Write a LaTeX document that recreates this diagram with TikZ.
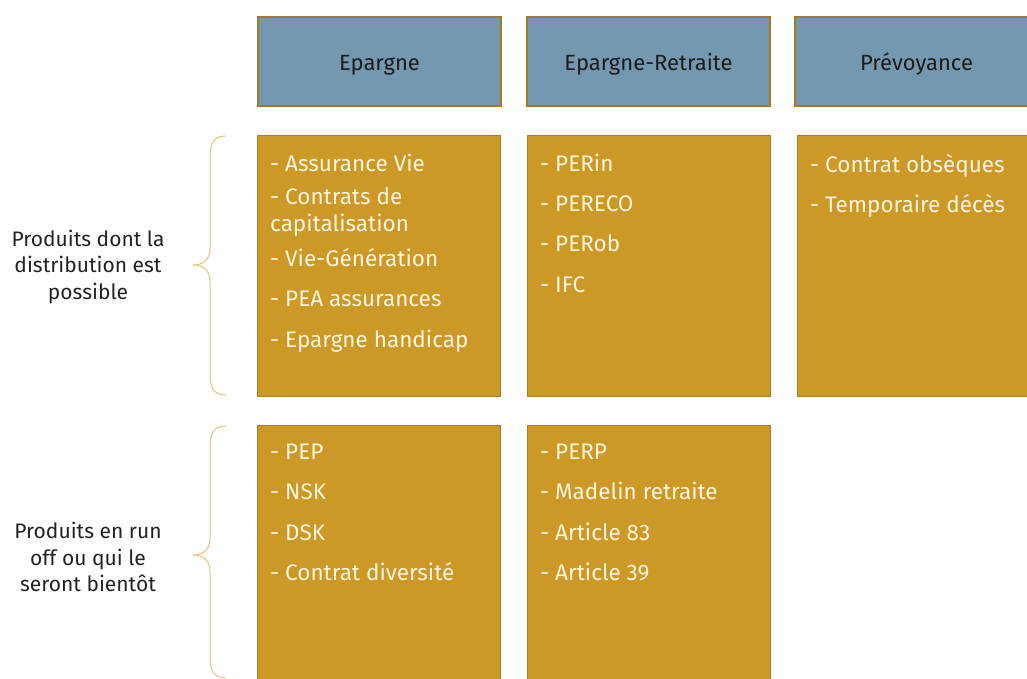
\documentclass[tikz,border=0pt]{standalone}
\usepackage{fontspec}
\setmainfont{Fira Sans}
\begin{document}
\begin{tikzpicture}[x=1pt,y=-1pt,
  header/.style={draw=hdrline, line width=2pt, fill=hdrfill, minimum width=243pt,
    minimum height=89pt, inner sep=0pt, anchor=north west, text depth=0pt,
    text height=19pt, font=\fontsize{22}{26}\selectfont, text=hdrtext},
  prodbox/.style={draw=boxline, line width=1pt, fill=boxfill, minimum width=243pt,
    inner sep=0pt, anchor=north west},
  items/.style={anchor=north west, align=left, inner sep=0pt, text=itemtext,
    font=\fontsize{22.5}{27}\selectfont},
  rowlabel/.style={align=center, inner sep=0pt, text=lbltext,
    font=\fontsize{21}{26.5}\selectfont},
  bracket/.style={draw=bracecol, line width=1pt}]
\definecolor{hdrfill}{HTML}{7398B0}
\definecolor{hdrline}{HTML}{A57A1E}
\definecolor{hdrtext}{HTML}{1C1C1C}
\definecolor{boxfill}{HTML}{CC9826}
\definecolor{boxline}{HTML}{A88020}
\definecolor{itemtext}{HTML}{FFF5E1}
\definecolor{lbltext}{HTML}{222222}
\definecolor{bracecol}{HTML}{E6C175}
\useasboundingbox (0,0) rectangle (1027,679);
\clip (0,0) rectangle (1027,679);

% column headers
\node[header] (hEp) at (257,16) {Epargne};
\node[header] (hEr) at (526,16) {Epargne-Retraite};
\node[header] (hPr) at (794,16) {Prévoyance};

% first row: products that can be distributed
\node[prodbox, minimum height=261pt] (b1) at (257,135) {};
\node[prodbox, minimum height=261pt] (b2) at (527,135) {};
\node[prodbox, minimum height=261pt] (b3) at (797,135) {};

% second row: products in run-off
\node[prodbox, minimum height=270pt] (b4) at (257,425) {};
\node[prodbox, minimum height=270pt] (b5) at (527,425) {};

\node[items] (t1) at (270,154) {- Assurance Vie\\[6pt]- Contrats de\\capitalisation\\[8pt]- Vie-Génération\\[13pt]- PEA assurances\\[14pt]- Epargne handicap};
\node[items] (t2) at (540,154) {- PERin\\[13pt]- PERECO\\[13pt]- PERob\\[14pt]- IFC};
\node[items] (t3) at (810,154) {- Contrat obsèques\\[13pt]- Temporaire décès};
\node[items] (t4) at (270,444) {- PEP\\[13pt]- NSK\\[14pt]- DSK\\[13pt]- Contrat diversité};
\node[items] (t5) at (540,444) {- PERP\\[13pt]- Madelin retraite\\[14pt]- Article 83\\[13pt]- Article 39};

% row labels
\node[rowlabel] (l1) at (88,267) {Produits dont la\\distribution est\\possible};
\node[rowlabel] (l2) at (88,557) {Produits en run\\off ou qui le\\seront bientôt};

% curly braces
\draw[bracket] (226,136) .. controls (214,136) and (210,143) .. (210,158)
  -- (210,248) .. controls (210,259) and (204,265) .. (193,265)
  .. controls (204,265) and (210,271) .. (210,282)
  -- (210,373) .. controls (210,388) and (214,395) .. (226,395);
\draw[bracket] (226,426) .. controls (214,426) and (210,433) .. (210,448)
  -- (210,538) .. controls (210,549) and (204,555) .. (193,555)
  .. controls (204,555) and (210,561) .. (210,572)
  -- (210,656) .. controls (210,671) and (214,678) .. (226,678);
\end{tikzpicture}
\end{document}
